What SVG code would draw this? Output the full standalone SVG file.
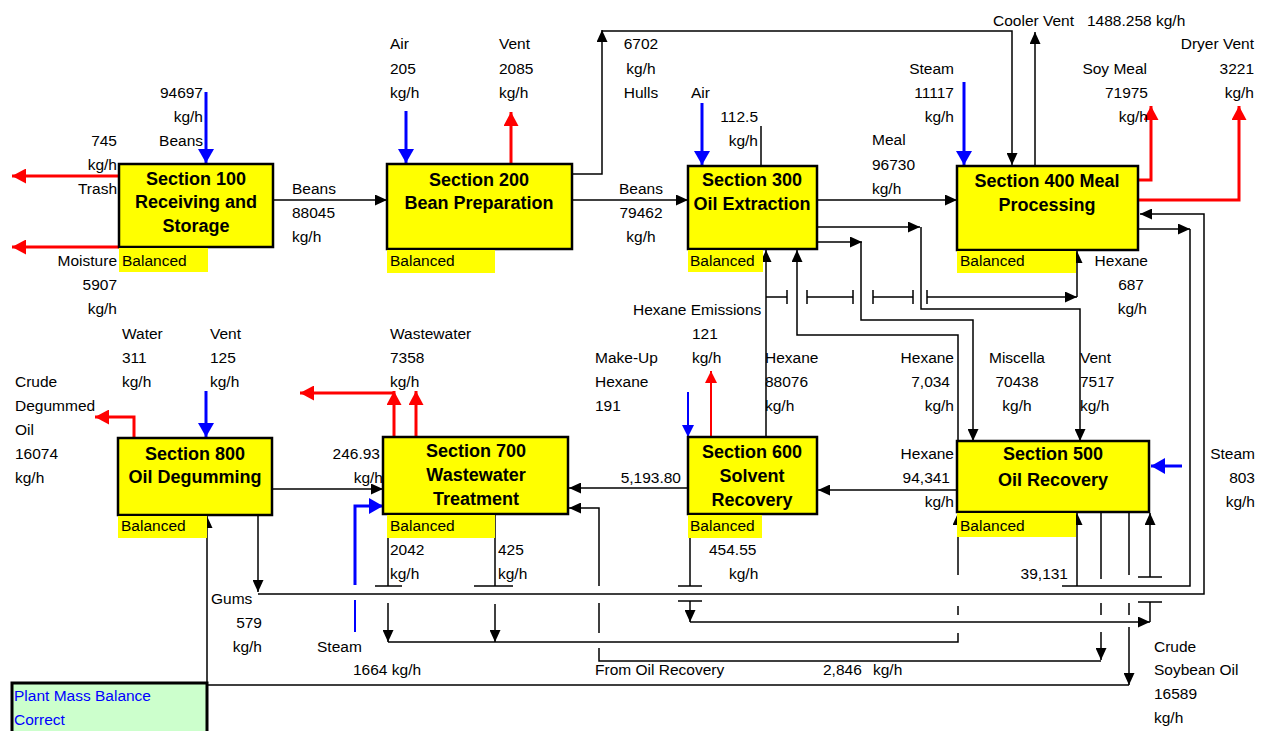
<svg xmlns="http://www.w3.org/2000/svg" width="1262" height="731" viewBox="0 0 1262 731">
<style>
.bx{fill:#FFFF00;stroke:#000;stroke-width:2.5}
.hl{fill:#FFFF00}
.t{font-family:"Liberation Sans",Arial,sans-serif;font-size:15.5px;fill:#000}
.e{text-anchor:end}
.m{text-anchor:middle}
.b{font-family:"Liberation Sans",Arial,sans-serif;font-size:18px;font-weight:bold;text-anchor:middle;fill:#000}
.k{fill:none;stroke:#000;stroke-width:1.5}
.ka{fill:none;stroke:#000;stroke-width:1.5;marker-end:url(#mk)}
.ra{fill:none;stroke:#FF0000;stroke-width:3;marker-end:url(#mr)}
.rn{fill:none;stroke:#FF0000;stroke-width:3}
.rs{fill:none;stroke:#FF0000;stroke-width:2;marker-end:url(#mrs)}
.ba{fill:none;stroke:#0000FF;stroke-width:3;marker-end:url(#mb)}
.bs{fill:none;stroke:#0000FF;stroke-width:2;marker-end:url(#mbs)}
.bn{fill:none;stroke:#0000FF;stroke-width:2}
</style>
<defs>
<marker id="mk" viewBox="0 0 12 11" refX="12" refY="5.5" markerWidth="12" markerHeight="11" markerUnits="userSpaceOnUse" orient="auto"><path d="M0,0L12,5.5L0,11z" fill="#000"/></marker>
<marker id="mr" viewBox="0 0 14 15" refX="14" refY="7.5" markerWidth="14" markerHeight="15" markerUnits="userSpaceOnUse" orient="auto"><path d="M0,0L14,7.5L0,15z" fill="#FF0000"/></marker>
<marker id="mrs" viewBox="0 0 12 12" refX="12" refY="6" markerWidth="12" markerHeight="12" markerUnits="userSpaceOnUse" orient="auto"><path d="M0,0L12,6L0,12z" fill="#FF0000"/></marker>
<marker id="mb" viewBox="0 0 14 16" refX="14" refY="8" markerWidth="14" markerHeight="16" markerUnits="userSpaceOnUse" orient="auto"><path d="M0,0L14,8L0,16z" fill="#0000FF"/></marker>
<marker id="mbs" viewBox="0 0 12 12" refX="12" refY="6" markerWidth="12" markerHeight="12" markerUnits="userSpaceOnUse" orient="auto"><path d="M0,0L12,6L0,12z" fill="#0000FF"/></marker>
</defs>
<rect width="1262" height="731" fill="#fff"/>

<g id="connectors">
<path class="ka" d="M273,200H387"/>
<path class="ka" d="M567,174H602V30"/>
<path class="ka" d="M602,31H1012V165"/>
<path class="ka" d="M572,200H688"/>
<path class="ka" d="M817,200H957"/>
<path class="k" d="M761,126V166"/>
<path class="ka" d="M1035,166V32"/>
<path class="ka" d="M258,594H1204V214H1140"/>
<path class="ka" d="M258,515V592"/>
<path class="ka" d="M1138,229H1190"/>
<path class="k" d="M1190,229V586H1062"/>
<path class="ka" d="M1077,586V513"/>
<path class="ka" d="M817,227H920"/>
<path class="ka" d="M921,227V309H1080V441"/>
<path class="ka" d="M817,242H862"/>
<path class="ka" d="M861,242V320H973V441"/>
<path class="ka" d="M958,441V335H797V250"/>
<path class="ka" d="M766,437V250"/>
<path class="k" d="M766,297H787M787,290V304M807,290V304M807,297H853M853,290V304M873,290V304M873,297H913M913,290V304M927,290V304"/>
<path class="ka" d="M927,297H1077"/>
<path class="ka" d="M1077,297V251"/>
<path class="ka" d="M957,490H818"/>
<path class="ka" d="M688,488H569"/>
<path class="ka" d="M272,489H383"/>
<path class="k" d="M1101,512V579M1101,603V615"/>
<path class="ka" d="M1101,632V660"/>
<path class="k" d="M1101,661H599V648M599,633V603"/>
<path class="ka" d="M599,586V508H569"/>
<path class="k" d="M1129,512V575M1129,603V615"/>
<path class="ka" d="M1129,627V685"/>
<path class="ka" d="M1129,685H207V516"/>
<path class="ka" d="M958,575V513"/>
<path class="k" d="M958,606V615M958,633V642H388"/>
<path class="k" d="M388,514V586M375,586H402M495,514V586M474,586H513"/>
<path class="ka" d="M388,603V642"/>
<path class="ka" d="M495,604V642"/>
<path class="k" d="M690,514V586M678,586H702M678,601H702"/>
<path class="ka" d="M690,601V622"/>
<path class="ka" d="M690,622H1150"/>
<path class="ka" d="M1150,577V513"/>
<path class="k" d="M1138,577H1162M1138,602H1162M1150,602V622"/>
<path class="ba" d="M206,92V163"/>
<path class="ba" d="M406,111V163"/>
<path class="ba" d="M702,103V165"/>
<path class="ba" d="M964,82V165"/>
<path class="ba" d="M1182,466H1151"/>
<path class="ba" d="M206,391V437"/>
<path class="bs" d="M688,392V437"/>
<path class="bn" d="M355,632V600"/>
<path class="ba" d="M355,585V506H383"/>
<path class="ra" d="M119,176H12"/>
<path class="ra" d="M119,247H12"/>
<path class="ra" d="M511,164V112"/>
<path class="ra" d="M1138,180H1151V106"/>
<path class="ra" d="M1138,200H1239V106"/>
<path class="ra" d="M394,437V391"/>
<path class="ra" d="M394,393H300"/>
<path class="ra" d="M416,437V391"/>
<path class="ra" d="M134,438V417H95"/>
<path class="rs" d="M711,437V371"/>
</g>

<g id="sec100">
<rect class="bx" x="119" y="164" width="154" height="83"/>
<rect class="hl" x="119" y="248" width="89" height="24"/>
<text class="t" x="122" y="265.5">Balanced</text>
<text class="b" x="196" y="184.5">Section 100</text>
<text class="b" x="196" y="208">Receiving and</text>
<text class="b" x="196" y="232">Storage</text>
</g>
<g id="sec200">
<rect class="bx" x="387" y="164" width="185" height="85"/>
<rect class="hl" x="387" y="250" width="108" height="23"/>
<text class="t" x="390" y="265.5">Balanced</text>
<text class="b" x="479" y="185.5">Section 200</text>
<text class="b" x="479" y="209">Bean Preparation</text>
</g>
<g id="sec300">
<rect class="bx" x="688" y="166" width="129" height="83"/>
<rect class="hl" x="688" y="250" width="75" height="22"/>
<text class="t" x="690" y="265.5">Balanced</text>
<text class="b" x="752" y="185.5">Section 300</text>
<text class="b" x="752" y="209.5">Oil Extraction</text>
</g>
<g id="sec400">
<rect class="bx" x="957" y="166" width="181" height="84"/>
<rect class="hl" x="957" y="251" width="119" height="22"/>
<text class="t" x="960" y="265.5">Balanced</text>
<text class="b" x="1047" y="186.5">Section 400 Meal</text>
<text class="b" x="1047" y="210.5">Processing</text>
</g>
<g id="sec500">
<rect class="bx" x="957" y="441" width="192" height="71"/>
<rect class="hl" x="957" y="513" width="119" height="24"/>
<text class="t" x="960" y="531">Balanced</text>
<text class="b" x="1053" y="460">Section 500</text>
<text class="b" x="1053" y="485.5">Oil Recovery</text>
</g>
<g id="sec600">
<rect class="bx" x="688" y="437" width="129" height="77"/>
<rect class="hl" x="688" y="515" width="74" height="23"/>
<text class="t" x="690" y="531">Balanced</text>
<text class="b" x="752" y="457.5">Section 600</text>
<text class="b" x="752" y="481.5">Solvent</text>
<text class="b" x="752" y="505.5">Recovery</text>
</g>
<g id="sec700">
<rect class="bx" x="383" y="437" width="185" height="77"/>
<rect class="hl" x="387" y="515" width="108" height="23"/>
<text class="t" x="390" y="531">Balanced</text>
<text class="b" x="476" y="457">Section 700</text>
<text class="b" x="476" y="480.5">Wastewater</text>
<text class="b" x="476" y="505">Treatment</text>
</g>
<g id="sec800">
<rect class="bx" x="118" y="438" width="154" height="77"/>
<rect class="hl" x="118" y="516" width="89" height="22"/>
<text class="t" x="121" y="531">Balanced</text>
<text class="b" x="195" y="459.5">Section 800</text>
<text class="b" x="195" y="482.5">Oil Degumming</text>
</g>
<g id="balance-check">
<rect x="12" y="683" width="195" height="60" fill="#CCFFCC" stroke="#000" stroke-width="3"/>
<text class="t" x="14" y="700.5" style="fill:#0000FF">Plant Mass Balance</text>
<text class="t" x="14" y="724.5" style="fill:#0000FF">Correct</text>
</g>

<g id="labels">
<text class="t e" x="203" y="97.5">94697</text>
<text class="t e" x="203" y="121.5">kg/h</text>
<text class="t e" x="203" y="145.5">Beans</text>
<text class="t e" x="117" y="145.5">745</text>
<text class="t e" x="117" y="169.5">kg/h</text>
<text class="t e" x="117" y="193.5">Trash</text>
<text class="t e" x="117" y="265.5">Moisture</text>
<text class="t e" x="117" y="289.5">5907</text>
<text class="t e" x="117" y="313.5">kg/h</text>
<text class="t" x="292" y="193.5">Beans</text>
<text class="t" x="292" y="217.5">88045</text>
<text class="t" x="292" y="241.5">kg/h</text>
<text class="t" x="390" y="48.5">Air</text>
<text class="t" x="390" y="73.5">205</text>
<text class="t" x="390" y="97.5">kg/h</text>
<text class="t" x="499" y="48.5">Vent</text>
<text class="t" x="499" y="73.5">2085</text>
<text class="t" x="499" y="97.5">kg/h</text>
<text class="t m" x="641" y="48.5">6702</text>
<text class="t m" x="641" y="73.5">kg/h</text>
<text class="t m" x="641" y="97.5">Hulls</text>
<text class="t m" x="641" y="193.5">Beans</text>
<text class="t m" x="641" y="217.5">79462</text>
<text class="t m" x="641" y="241.5">kg/h</text>
<text class="t" x="691" y="97.5">Air</text>
<text class="t e" x="758" y="121.5">112.5</text>
<text class="t e" x="758" y="145.5">kg/h</text>
<text class="t" x="872" y="144.5">Meal</text>
<text class="t" x="872" y="169.5">96730</text>
<text class="t" x="872" y="193.5">kg/h</text>
<text class="t e" x="954" y="73.5">Steam</text>
<text class="t e" x="954" y="97.5">11117</text>
<text class="t e" x="954" y="121.5">kg/h</text>
<text class="t" x="993" y="25.5">Cooler Vent</text>
<text class="t" x="1087" y="25.5">1488.258 kg/h</text>
<text class="t e" x="1147" y="73.5">Soy Meal</text>
<text class="t e" x="1148" y="97.5">71975</text>
<text class="t e" x="1148" y="121.5">kg/h</text>
<text class="t e" x="1254" y="48.5">Dryer Vent</text>
<text class="t e" x="1254" y="73.5">3221</text>
<text class="t e" x="1254" y="97.5">kg/h</text>
<text class="t e" x="1148" y="265.5">Hexane</text>
<text class="t e" x="1144" y="289.5">687</text>
<text class="t e" x="1147" y="313.5">kg/h</text>
<text class="t" x="633" y="314.5">Hexane Emissions</text>
<text class="t" x="692" y="338.5">121</text>
<text class="t" x="692" y="362.5">kg/h</text>
<text class="t" x="595" y="362.5">Make-Up</text>
<text class="t" x="595" y="386.5">Hexane</text>
<text class="t" x="595" y="410.5">191</text>
<text class="t" x="765" y="362.5">Hexane</text>
<text class="t" x="765" y="386.5">88076</text>
<text class="t" x="765" y="410.5">kg/h</text>
<text class="t e" x="954" y="362.5">Hexane</text>
<text class="t e" x="950" y="386.5">7,034</text>
<text class="t e" x="954" y="410.5">kg/h</text>
<text class="t m" x="1017" y="362.5">Miscella</text>
<text class="t m" x="1017" y="386.5">70438</text>
<text class="t m" x="1017" y="410.5">kg/h</text>
<text class="t" x="1080" y="362.5">Vent</text>
<text class="t" x="1080" y="386.5">7517</text>
<text class="t" x="1080" y="410.5">kg/h</text>
<text class="t" x="122" y="338.5">Water</text>
<text class="t" x="122" y="362.5">311</text>
<text class="t" x="122" y="386.5">kg/h</text>
<text class="t" x="210" y="338.5">Vent</text>
<text class="t" x="210" y="362.5">125</text>
<text class="t" x="210" y="386.5">kg/h</text>
<text class="t" x="390" y="338.5">Wastewater</text>
<text class="t" x="390" y="362.5">7358</text>
<text class="t" x="390" y="386.5">kg/h</text>
<text class="t" x="15" y="386.5">Crude</text>
<text class="t" x="15" y="410.5">Degummed</text>
<text class="t" x="15" y="434.5">Oil</text>
<text class="t" x="15" y="458.5">16074</text>
<text class="t" x="15" y="482.5">kg/h</text>
<text class="t e" x="380" y="458.5">246.93</text>
<text class="t e" x="383" y="482.5">kg/h</text>
<text class="t e" x="681" y="482.5">5,193.80</text>
<text class="t e" x="954" y="458.5">Hexane</text>
<text class="t e" x="950" y="482.5">94,341</text>
<text class="t e" x="954" y="506.5">kg/h</text>
<text class="t e" x="1255" y="458.5">Steam</text>
<text class="t e" x="1255" y="482.5">803</text>
<text class="t e" x="1255" y="506.5">kg/h</text>
<text class="t" x="390" y="555">2042</text>
<text class="t" x="390" y="579">kg/h</text>
<text class="t" x="498" y="555">425</text>
<text class="t" x="498" y="579">kg/h</text>
<text class="t" x="709" y="555">454.55</text>
<text class="t" x="729" y="579">kg/h</text>
<text class="t e" x="1068" y="578.5">39,131</text>
<text class="t" x="211" y="603.5">Gums</text>
<text class="t e" x="262" y="627.5">579</text>
<text class="t e" x="262" y="651.5">kg/h</text>
<text class="t" x="317" y="651.5">Steam</text>
<text class="t" x="353" y="674.5">1664 kg/h</text>
<text class="t" x="595" y="675">From Oil Recovery</text>
<text class="t" x="823" y="675">2,846</text>
<text class="t" x="873" y="675">kg/h</text>
<text class="t" x="1154" y="651.5">Crude</text>
<text class="t" x="1154" y="674.5">Soybean Oil</text>
<text class="t" x="1154" y="698.5">16589</text>
<text class="t" x="1154" y="722.5">kg/h</text>
</g>
</svg>
